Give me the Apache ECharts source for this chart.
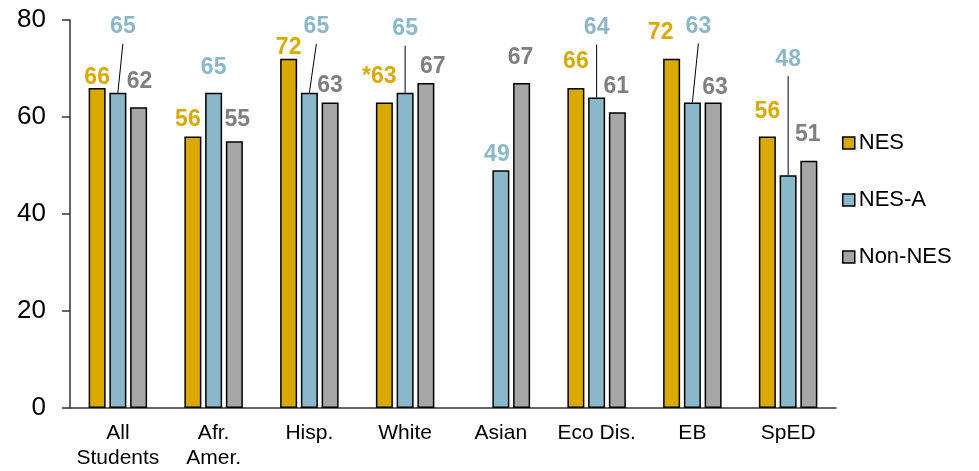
<!DOCTYPE html>
<html><head><meta charset="utf-8">
<script src="https://cdn.jsdelivr.net/npm/echarts@6/dist/echarts.min.js"></script>
<style>html,body{margin:0;padding:0;background:#fff}#c{width:979px;height:471px}</style>
</head><body><div id="c"></div>
<script>
const categories = ['All\nStudents', 'Afr.\nAmer.', 'Hisp.', 'White', 'Asian', 'Eco Dis.', 'EB', 'SpED'];
const nesValues    = [66, 56, 72, 63, null, 66, 72, 56];
const nesLabels    = ['66', '56', '72', '*63', '', '66', '72', '56'];
const nesAValues   = [65, 65, 65, 65, 49, 64, 63, 48];
const nonNesValues = [62, 55, 63, 67, 67, 61, 63, 51];
const yTicks = [0, 20, 40, 60, 80];

// label placement tweaks (pixels, relative to default top position)
const nesOff    = [[0,1],[-5,-6],[0,0],[-5,-15],[0,0],[0,-15],[-11,-15],[0,-14]];
const nesAOff   = [[5,-55],[0,-14],[7,-55],[0,-53],[-4,-5],[0,-59],[6,-65],[0,-105]];
const nonNesOff = [[1,-15],[3,-11],[0,-6],[7,-5],[-1,-14],[-1,-14],[2,-4],[-1,-15]];
const hasLeader = nesAOff.map(o => o[1] <= -40);

const C_NES = '#DAA900', C_NESA = '#8AB7C9', C_NON = '#A6A6A6';
const LBL_NES = '#DAA900', LBL_NESA = '#8AB7C9', LBL_NON = '#7F7F7F';
const FONT = 'Liberation Sans, Arial, sans-serif';

function barSeries(name, values, color, lblColor, offs, texts) {
  return {
    name, type: 'bar', barWidth: 17, barGap: '22%',
    itemStyle: { color, borderColor: '#000', borderWidth: 1.5 },
    data: values.map((v, i) => ({
      value: v,
      label: { offset: offs[i], formatter: texts ? texts[i] : String(v) }
    })),
    label: {
      show: true, position: 'top', distance: 0,
      color: lblColor, fontFamily: FONT, fontWeight: 'bold', fontSize: 23, lineHeight: 22
    },
    emphasis: { disabled: true }
  };
}

const chart = echarts.init(document.getElementById('c'), null, { renderer: 'canvas' });
chart.setOption({
  animation: false,
  backgroundColor: '#fff',
  grid: { left: 70, right: 143, top: 20, bottom: 62 },
  legend: {
    data: ['NES', 'NES-A', 'Non-NES'],
    orient: 'vertical', left: 837, top: 127,
    itemWidth: 12, itemHeight: 12, itemGap: 35,
    icon: 'rect',
    itemStyle: { borderColor: '#000', borderWidth: 1.5 },
    textStyle: { fontFamily: FONT, fontSize: 22, lineHeight: 22, color: '#000', padding: [0,0,0,-1] }
  },
  xAxis: {
    type: 'category', data: categories,
    axisLine: { lineStyle: { color: '#333', width: 1.5 } },
    axisTick: { show: false },
    axisLabel: { color: '#000', fontFamily: FONT, fontSize: 21, lineHeight: 25, margin: 13, interval: 0 }
  },
  yAxis: {
    type: 'value', min: yTicks[0], max: yTicks[yTicks.length - 1], interval: 20,
    axisLine: { show: true, lineStyle: { color: '#333', width: 1.5 } },
    axisTick: { show: true, length: 8, lineStyle: { color: '#333', width: 1.5 } },
    splitLine: { show: false },
    axisLabel: { color: '#000', fontFamily: FONT, fontSize: 26, margin: 24 }
  },
  series: [
    barSeries('NES', nesValues, C_NES, LBL_NES, nesOff, nesLabels),
    barSeries('NES-A', nesAValues, C_NESA, LBL_NESA, nesAOff, null),
    barSeries('Non-NES', nonNesValues, C_NON, LBL_NON, nonNesOff, null),
    {
      name: 'leaders', type: 'custom', z: 5, silent: true,
      data: nesAValues.map((v, i) => [i, v]).filter((d) => hasLeader[d[0]]),
      renderItem: function (params, api) {
        const idx = api.value(0), v = api.value(1);
        const p = api.coord([idx, v]);
        const o = nesAOff[idx];
        return {
          type: 'line',
          shape: { x1: p[0], y1: p[1], x2: p[0] + o[0], y2: p[1] + o[1] + 6 },
          style: { stroke: '#000', lineWidth: 1 }
        };
      }
    }
  ]
});
</script></body></html>
